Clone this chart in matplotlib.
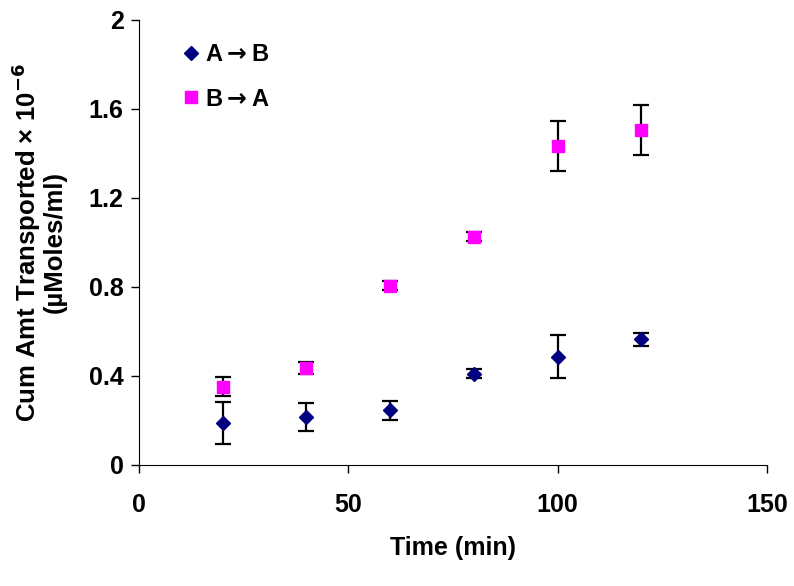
import numpy as np
import matplotlib
matplotlib.use("Agg")
import matplotlib.pyplot as plt

plt.rcParams['font.family'] = ['Liberation Sans', 'DejaVu Sans']
plt.rcParams['font.weight'] = 'bold'
plt.rcParams['mathtext.default'] = 'bf'

time_min = [20, 40, 60, 80, 100, 120]
a_to_b = [0.19, 0.215, 0.245, 0.41, 0.487, 0.565]
a_to_b_err = [0.095, 0.063, 0.042, 0.02, 0.095, 0.03]
b_to_a = [0.352, 0.435, 0.805, 1.025, 1.435, 1.505]
b_to_a_err = [0.044, 0.026, 0.02, 0.02, 0.112, 0.112]

fig = plt.figure(figsize=(7.94, 5.86), dpi=100)
ax = fig.add_axes([0.175, 0.2065, 0.791, 0.7595])

ax.errorbar(time_min, a_to_b, yerr=a_to_b_err, fmt='D', color='#000080',
            ms=7, ecolor='black', elinewidth=1.6, capsize=5.5, capthick=1.6,
            label='A${\\rightarrow}$B')
ax.errorbar(time_min, b_to_a, yerr=b_to_a_err, fmt='s', color='#FF00FF',
            ms=9, ecolor='black', elinewidth=1.6, capsize=5.5, capthick=1.6,
            label='B${\\rightarrow}$A')

ax.set_xlim(0, 150)
ax.set_ylim(0, 2)
ax.set_xticks([0, 50, 100, 150])
ax.set_yticks([0, 0.4, 0.8, 1.2, 1.6, 2])
ax.set_yticklabels(['0', '0.4', '0.8', '1.2', '1.6', '2'])
ax.spines['top'].set_visible(False)
ax.spines['right'].set_visible(False)
ax.tick_params(direction='out', length=6, width=1, labelsize=18, pad=5)
ax.tick_params(axis='x', pad=14)

ax.set_xlabel('Time (min)', fontsize=18, fontweight='bold', labelpad=14)
ax.set_ylabel('Cum Amt Transported \u00d7 10$^{\\mathbf{-6}}$\n(\u00b5Moles/ml)',
              fontsize=18.5, fontweight='bold', labelpad=16, linespacing=1.0)

handles, labels = ax.get_legend_handles_labels()
handles = [h[0] for h in handles]
ax.legend(handles, labels, loc='upper left', bbox_to_anchor=(0.03, 0.995),
          frameon=False, fontsize=17, handletextpad=0.1, handlelength=1.0,
          labelspacing=0.9)

fig.savefig('out.png', dpi=100)
